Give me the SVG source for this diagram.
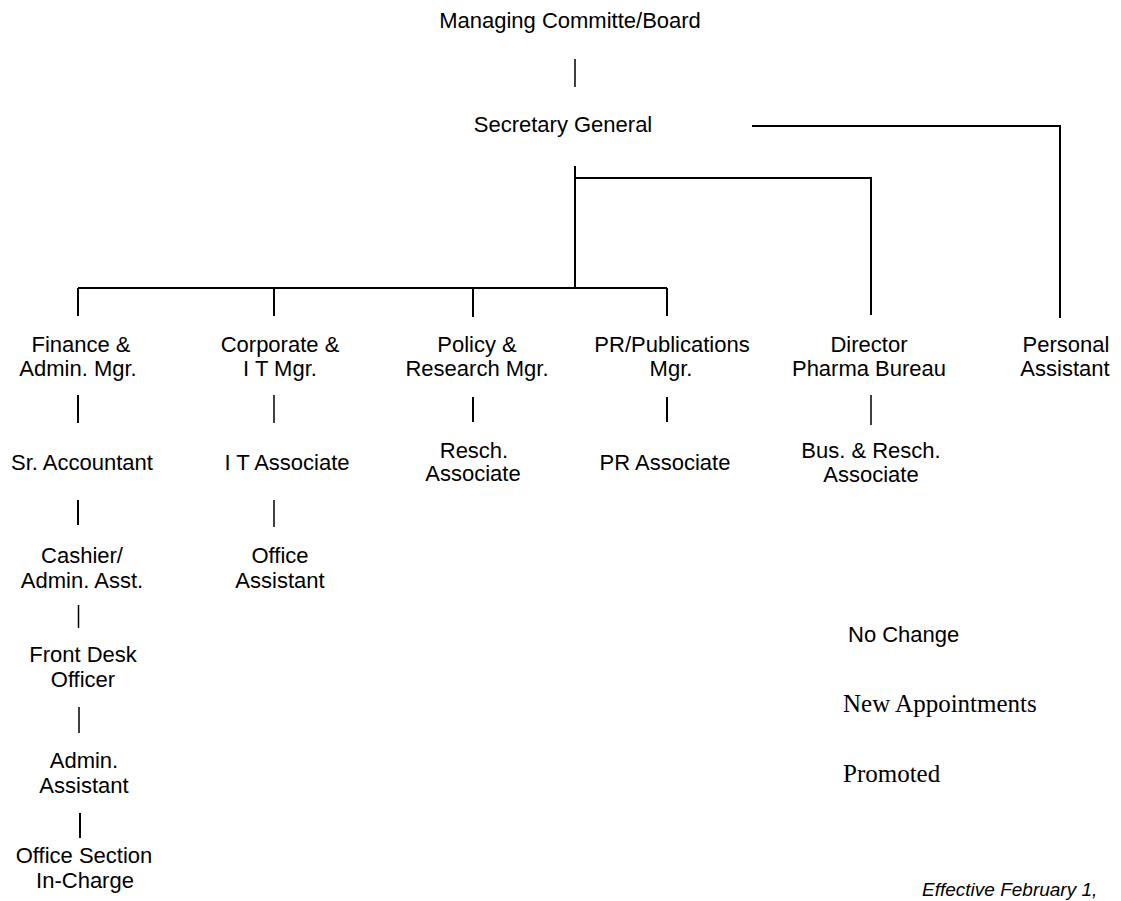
<svg xmlns="http://www.w3.org/2000/svg" width="1121" height="901" viewBox="0 0 1121 901">
<style>
.t{font-family:"Liberation Sans",Arial,sans-serif;font-size:22px;fill:#000;text-anchor:middle}
.l{font-family:"Liberation Sans",Arial,sans-serif;font-size:22px;fill:#000}
.s{font-family:"Liberation Serif","Times New Roman",serif;font-size:25px;fill:#000}
.e{font-family:"Liberation Sans",Arial,sans-serif;font-size:19px;font-style:italic;fill:#000}
.c{stroke:#000;stroke-width:2;fill:none}
.c1{stroke:#000;stroke-width:1.5;fill:none}
</style>
<rect width="1121" height="901" fill="#fff"/>
<g id="connectors">
<line class="c1" x1="575" y1="59" x2="575" y2="87"/>
<polyline class="c" points="752,126 1060,126 1060,318"/>
<line class="c" x1="575" y1="166" x2="575" y2="289"/>
<polyline class="c" points="575,178 871,178 871,315"/>
<line class="c" x1="78" y1="288" x2="667" y2="288"/>
<line class="c" x1="78" y1="288" x2="78" y2="316"/>
<line class="c" x1="274" y1="288" x2="274" y2="316"/>
<line class="c" x1="473" y1="288" x2="473" y2="317"/>
<line class="c" x1="667" y1="288" x2="667" y2="316"/>
<line class="c" x1="78" y1="395" x2="78" y2="423"/>
<line class="c1" x1="274" y1="395" x2="274" y2="423"/>
<line class="c" x1="473" y1="397" x2="473" y2="422"/>
<line class="c" x1="667" y1="397" x2="667" y2="422"/>
<line class="c1" x1="871" y1="395" x2="871" y2="425"/>
<line class="c" x1="78" y1="500" x2="78" y2="525"/>
<line class="c1" x1="274" y1="500" x2="274" y2="527"/>
<line class="c1" x1="78.5" y1="605" x2="78.5" y2="628"/>
<line class="c1" x1="79" y1="707" x2="79" y2="733"/>
<line class="c" x1="80" y1="813" x2="80" y2="838"/>
</g>
<g id="n-board"><text class="t" x="570" y="28" font-size="23">Managing Committe/Board</text></g>
<g id="n-secgen"><text class="t" x="563" y="132">Secretary General</text></g>
<g id="n-finance"><text class="t" x="81" y="352">Finance &amp;</text><text class="t" x="78" y="376">Admin. Mgr.</text></g>
<g id="n-corporate"><text class="t" x="280" y="352">Corporate &amp;</text><text class="t" x="280" y="376">I T Mgr.</text></g>
<g id="n-policy"><text class="t" x="477" y="352">Policy &amp;</text><text class="t" x="477" y="376">Research Mgr.</text></g>
<g id="n-pr"><text class="t" x="672" y="352">PR/Publications</text><text class="t" x="671" y="376">Mgr.</text></g>
<g id="n-director"><text class="t" x="869" y="352">Director</text><text class="t" x="869" y="376">Pharma Bureau</text></g>
<g id="n-pa"><text class="t" x="1066" y="352">Personal</text><text class="t" x="1065" y="376">Assistant</text></g>
<g id="n-sracc"><text class="t" x="82" y="470">Sr. Accountant</text></g>
<g id="n-itassoc"><text class="t" x="287" y="470">I T Associate</text></g>
<g id="n-resch"><text class="t" x="474" y="458">Resch.</text><text class="t" x="473" y="481">Associate</text></g>
<g id="n-prassoc"><text class="t" x="665" y="470">PR Associate</text></g>
<g id="n-busresch"><text class="t" x="871" y="458">Bus. &amp; Resch.</text><text class="t" x="871" y="482">Associate</text></g>
<g id="n-cashier"><text class="t" x="82" y="563">Cashier/</text><text class="t" x="82" y="588">Admin. Asst.</text></g>
<g id="n-officeasst"><text class="t" x="280" y="563">Office</text><text class="t" x="280" y="588">Assistant</text></g>
<g id="n-frontdesk"><text class="t" x="83" y="662">Front Desk</text><text class="t" x="83" y="687">Officer</text></g>
<g id="n-adminasst"><text class="t" x="84" y="768">Admin.</text><text class="t" x="84" y="793">Assistant</text></g>
<g id="n-officesec"><text class="t" x="84" y="863">Office Section</text><text class="t" x="85" y="888">In-Charge</text></g>
<g id="legend">
<text class="l" x="848" y="642">No Change</text>
<text class="s" x="843" y="712">New Appointments</text>
<text class="s" x="843" y="782">Promoted</text>
<text class="e" x="922" y="896">Effective February 1,</text>
</g>
</svg>
